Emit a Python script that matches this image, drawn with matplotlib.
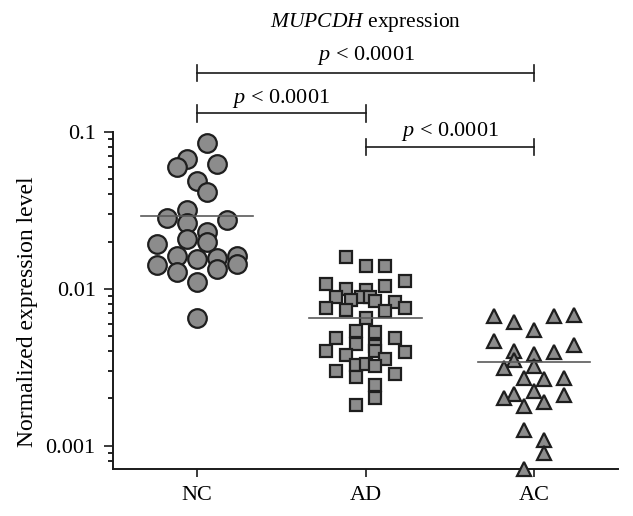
import matplotlib
matplotlib.use("Agg")
import matplotlib.pyplot as plt
from matplotlib.ticker import NullFormatter

plt.rcParams['font.family'] = 'Liberation Serif'
plt.rcParams['mathtext.fontset'] = 'custom'
plt.rcParams['mathtext.rm'] = 'Liberation Serif'
plt.rcParams['mathtext.it'] = 'Liberation Serif:italic'

groups = ['NC', 'AD', 'AC']

# values (log scale), with their column in the dot plot
nc_vals = [0.0855, 0.0673, 0.0601, 0.0623, 0.0488, 0.0415, 0.0319, 0.0282,
           0.0275, 0.0262, 0.0230, 0.0208, 0.0198, 0.0194, 0.0162, 0.0155,
           0.0158, 0.0162, 0.0141, 0.0128, 0.0134, 0.0144, 0.0110, 0.0065]
nc_cols = [1, -1, -2, 2, 0, 1, -1, -3, 3, -1, 1, -1, 1, -4, -2, 0, 2, 4,
           -4, -2, 2, 4, 0, 0]

ad_vals = [0.0159, 0.0140, 0.0140, 0.01125, 0.0107, 0.0100, 0.00976, 0.01035,
           0.00881, 0.00881, 0.00881, 0.00851, 0.00839, 0.00830, 0.00754,
           0.00728, 0.00717, 0.00754, 0.00656, 0.00535, 0.00527, 0.00485,
           0.00485, 0.00447, 0.00429, 0.00403, 0.00399, 0.00395, 0.00380,
           0.00358, 0.00328, 0.00333, 0.00320, 0.00301, 0.00288, 0.00276,
           0.00245, 0.00201, 0.00181]
ad_cols = [-2, 0, 2, 4, -4, -2, 0, 2, -3, -0.5, 0.5, -1.5, 1, 3, -4, -2, 2, 4,
           0, -1, 1, -3, 3, -1, 1, 1, -4, 4, -2, 2, -1, 0, 1, -3, 3, -1, 1, 1,
           -1]

ac_vals = [0.00673, 0.00619, 0.00548, 0.00673, 0.00678, 0.00462, 0.00403,
           0.00383, 0.00393, 0.00440, 0.00353, 0.00313, 0.00320, 0.00270,
           0.00266, 0.00271, 0.00215, 0.00223, 0.00200, 0.00211, 0.00180,
           0.00189, 0.00126, 0.00109, 0.000893, 0.000711]
ac_cols = [-4, -2, 0, 2, 4, -4, -2, 0, 2, 4, -2, -3, 0, -1, 1, 3, -2, 0, -3,
           3, -1, 1, -1, 1, 1, -1]

medians = [0.029, 0.00656, 0.0034]

# significance brackets: (from group, to group, label)
brackets = [(1, 3, 'top'), (1, 2, 'mid'), (2, 3, 'low')]
p_label = r'$p$ < 0.0001'

fill = '#8c8c8c'
edge = '#1e1e1e'
step = 0.0594

fig = plt.figure(figsize=(6.33, 5.16), dpi=100)
ax = fig.add_axes([113 / 633, 47 / 516, 505 / 633, 337 / 516])

series = [(nc_vals, nc_cols, 'o', 13.4), (ad_vals, ad_cols, 's', 9.2),
          (ac_vals, ac_cols, '^', 10.0)]
for i, (vals, cols, mk, ms) in enumerate(series):
    xs = [i + 1 + c * step for c in cols]
    ax.plot(xs, vals, linestyle='none', marker=mk, markersize=ms,
            markerfacecolor=fill, markeredgecolor=edge, markeredgewidth=1.6,
            clip_on=False, zorder=3)
    ax.plot([i + 1 - 1 / 3, i + 1 + 1 / 3], [medians[i], medians[i]],
            color='#5a5a5a', lw=1.2, zorder=4)

ax.set_yscale('log')
ax.set_ylim(7.1e-4, 0.1)
ax.set_xlim(0.5, 3.5)
ax.set_yticks([0.001, 0.01, 0.1], labels=['0.001', '0.01', '0.1'])
ax.yaxis.set_minor_formatter(NullFormatter())
ax.set_xticks([1, 2, 3], labels=groups)

for s in ['top', 'right']:
    ax.spines[s].set_visible(False)
for s in ['left', 'bottom']:
    ax.spines[s].set_linewidth(1.4)
    ax.spines[s].set_color('#1a1a1a')

ax.tick_params(axis='both', which='major', labelsize=16, width=1.2,
               color='#1a1a1a')
ax.tick_params(axis='y', which='major', length=6.5, pad=6)
ax.tick_params(axis='y', which='minor', length=3.6, width=1.2)
ax.tick_params(axis='x', which='major', length=6, pad=6)

ax.set_ylabel('Normalized expression level', fontsize=17)
ax.yaxis.set_label_coords(-0.149, 0.466)

# brackets drawn in axes-fraction height
tr = ax.get_xaxis_transform()
levels = {'top': (1.175, 1.228), 'mid': (1.055, 1.098), 'low': (0.955, 1.002)}
for x0, x1, key in brackets:
    yb, yt = levels[key]
    ax.plot([x0, x1], [yb, yb], color='#1a1a1a', lw=1.2, transform=tr,
            clip_on=False)
    for xe in (x0, x1):
        ax.plot([xe, xe], [yb - 0.024, yb + 0.024], color='#1a1a1a', lw=1.2,
                transform=tr, clip_on=False)
    ax.text((x0 + x1) / 2, yt, p_label, transform=tr, ha='center',
            va='center', fontsize=16)

ax.text(2, 1.326, r'$MUPCDH$ expression', transform=tr, ha='center',
        va='center', fontsize=15.5)

fig.savefig('out.png', dpi=100)
